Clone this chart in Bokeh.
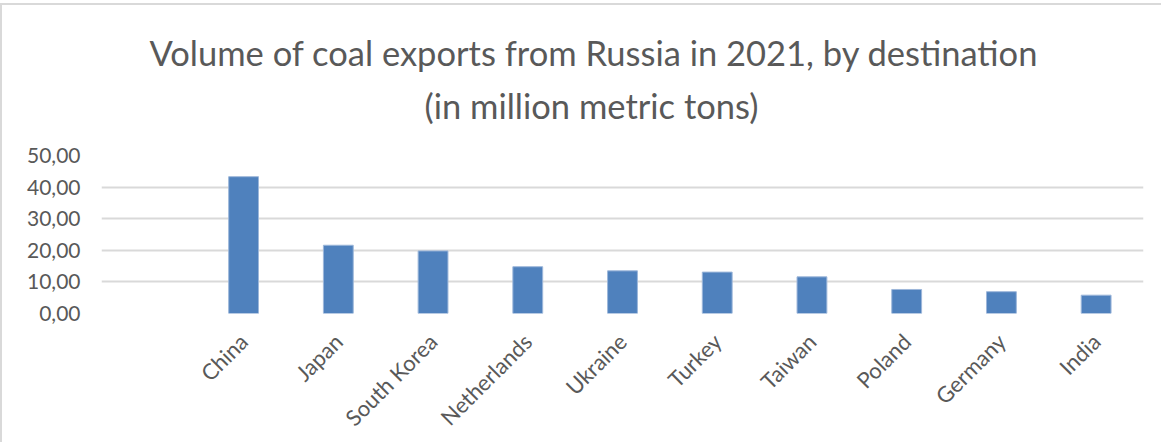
from bokeh.plotting import figure
from bokeh.models import (ColumnDataSource, FactorRange, Range1d, FixedTicker,
                          CustomJSTickFormatter, Title)
from bokeh.embed import file_html
from bokeh.resources import INLINE
import math

# ---- data ----
categories = ["China", "Japan", "South Korea", "Netherlands", "Ukraine",
              "Turkey", "Taiwan", "Poland", "Germany", "India"]
values = [43.3, 21.6, 19.8, 14.8, 13.5, 13.1, 11.6, 7.6, 6.9, 5.8]
y_ticks = [0, 10, 20, 30, 40, 50]
title_line1 = "Volume of coal exports from Russia in 2021, by destination"
title_line2 = "(in million metric tons)"

TEXT = "#595959"
GRID = "#d9d9d9"
FONT = "Lato"

factors = [" "] + categories
source = ColumnDataSource(data=dict(cat=categories, val=values))

p = figure(x_range=FactorRange(factors=factors, range_padding=0),
           y_range=Range1d(0, 50),
           width=1161, height=439, output_backend="svg",
           toolbar_location=None, min_border_left=99, min_border_right=20,
           min_border_bottom=131, min_border_top=150)
p.margin = (3, 0, 0, 0)
p.styles = {"border-left": "2px solid #d9d9d9", "border-top": "2px solid #d9d9d9"}

p.vbar(x="cat", top="val", width=0.315, source=source,
       fill_color="#4f81bd", line_color="#9db7da", line_width=1)

# titles (line 2 added first -> closer to plot)
t2 = Title(text=title_line2, align="left", text_font=FONT,
           text_font_size="34.5px", text_font_style="normal",
           text_color=TEXT, standoff=60, offset=323)
t1 = Title(text=title_line1, align="left", text_font=FONT,
           text_font_size="34.5px", text_font_style="normal",
           text_color=TEXT, standoff=-40, offset=48)
p.add_layout(t2, "above")
p.add_layout(t1, "above")

p.outline_line_color = None
p.background_fill_color = "white"
p.border_fill_color = "white"

# y axis
p.yaxis.ticker = FixedTicker(ticks=y_ticks)
p.yaxis.formatter = CustomJSTickFormatter(code="return tick.toFixed(2).replace('.', ',');")
p.yaxis.axis_line_color = None
p.yaxis.major_tick_line_color = None
p.yaxis.minor_tick_line_color = None
p.yaxis.major_label_standoff = 15
p.yaxis.major_label_text_font = FONT
p.yaxis.major_label_text_font_size = "21px"
p.yaxis.major_label_text_color = TEXT

# x axis
p.xaxis.axis_line_color = None
p.xaxis.major_tick_line_color = None
p.xaxis.minor_tick_line_color = None
p.xaxis.major_label_orientation = math.pi / 4
p.xaxis.major_label_standoff = 18
p.xaxis.major_label_text_font = FONT
p.xaxis.major_label_text_font_size = "22px"
p.xaxis.major_label_text_color = TEXT

p.xgrid.grid_line_color = None
p.ygrid.grid_line_color = GRID
p.ygrid.grid_line_width = 2

open("out.html", "w").write(file_html(p, INLINE))
